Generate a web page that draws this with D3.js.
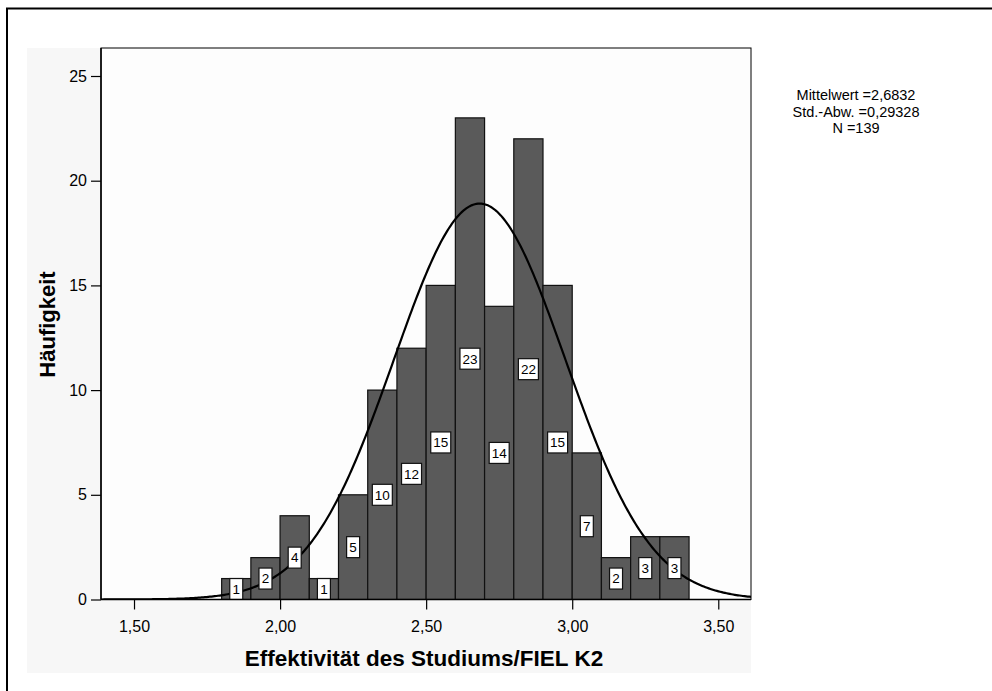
<!DOCTYPE html>
<html><head><meta charset="utf-8">
<script src="https://cdn.jsdelivr.net/npm/d3@7"></script>
<style>body{margin:0;background:#fff}svg{display:block}text{font-family:"Liberation Sans",Arial,sans-serif}</style>
</head><body><svg id="c" width="992" height="691"></svg>
<script>
const binStarts = [1.8,1.9,2.0,2.1,2.2,2.3,2.4,2.5,2.6,2.7,2.8,2.9,3.0,3.1,3.2,3.3];
const counts    = [1,2,4,1,5,10,12,15,23,14,22,15,7,2,3,3];
const binWidth = 0.1;
const xTicks = [1.5,2.0,2.5,3.0,3.5];
const yTicks = [0,5,10,15,20,25];
const stats = {mean:2.6832, sd:0.29328, n:139};
const statLines = ["Mittelwert =2,6832","Std.-Abw. =0,29328","N =139"];
const xTitle = "Effektivität des Studiums/FIEL K2";
const yTitle = "Häufigkeit";

const svg = d3.select("#c");
const L=101, R=751, T=48, B=599.5;
const x = d3.scaleLinear().domain([1.387,3.612]).range([L,R]);
const y = d3.scaleLinear().domain([0,25]).range([B,76]);

svg.append("rect").attr("x",7).attr("y",8.5).attr("width",1000).attr("height",700)
  .attr("fill","none").attr("stroke","#000").attr("stroke-width",2);
svg.append("rect").attr("x",27).attr("y",48).attr("width",R-27).attr("height",673-48).attr("fill","#f7f7f7");
svg.append("rect").attr("x",L).attr("y",T).attr("width",R-L).attr("height",B-T).attr("fill","#fdfdfd")
  .attr("stroke","#000").attr("stroke-width",1);

svg.append("clipPath").attr("id","pc").append("rect").attr("x",L).attr("y",T).attr("width",R-L).attr("height",B-T);
const g = svg.append("g").attr("clip-path","url(#pc)");

g.selectAll("rect.bar").data(binStarts).join("rect").attr("class","bar")
  .attr("x",d=>x(d)).attr("width",(d)=>x(d+binWidth)-x(d))
  .attr("y",(d,i)=>y(counts[i])).attr("height",(d,i)=>B-y(counts[i]))
  .attr("fill","#5a5a5a").attr("stroke","#111").attr("stroke-width",1.2);

// normal curve
const pdf = v => stats.n*binWidth*Math.exp(-0.5*((v-stats.mean)/stats.sd)**2)/(stats.sd*Math.sqrt(2*Math.PI));
const xs = d3.range(0,401).map(i=>1.387+(3.612-1.387)*i/400);
g.append("path").datum(xs).attr("fill","none").attr("stroke","#000").attr("stroke-width",2.2)
  .attr("d",d3.line().x(d=>x(d)).y(d=>y(pdf(d))));

// labels
const lab = g.selectAll("g.lab").data(binStarts).join("g").attr("class","lab")
  .attr("transform",(d,i)=>`translate(${x(d+binWidth/2)},${y(counts[i]/2)})`);
lab.each(function(d,i){
  const s=String(counts[i]); const w = s.length>1?20:13;
  const gg=d3.select(this);
  gg.append("rect").attr("x",-w/2).attr("y",-10.5).attr("width",w).attr("height",21)
    .attr("fill","#fff").attr("stroke","#111").attr("stroke-width",1.2);
  gg.append("text").attr("text-anchor","middle").attr("dy","0.36em").attr("font-size",13.5).text(s);
});

// axes
const fmt = d=>d3.format(".2f")(d).replace(".",",");
const xa = svg.append("g").attr("transform",`translate(0,${B})`)
  .call(d3.axisBottom(x).tickValues(xTicks).tickFormat(fmt).tickSize(10).tickSizeOuter(0));
xa.select(".domain").remove();
xa.selectAll("line").attr("stroke","#000").attr("stroke-width",1.2);
xa.selectAll("text").attr("font-size",16).attr("fill","#000").attr("dy",19).attr("font-family","Liberation Sans, Arial, sans-serif");
const ya = svg.append("g").attr("transform",`translate(${L},0)`)
  .call(d3.axisLeft(y).tickValues(yTicks).tickSize(10).tickSizeOuter(0).tickPadding(4));
ya.select(".domain").remove();
ya.selectAll("line").attr("stroke","#000").attr("stroke-width",1.2);
ya.selectAll("text").attr("font-size",16).attr("fill","#000").attr("font-family","Liberation Sans, Arial, sans-serif");
svg.append("line").attr("x1",L).attr("x2",L).attr("y1",T).attr("y2",B).attr("stroke","#000").attr("stroke-width",1.5);
svg.append("line").attr("x1",L).attr("x2",R).attr("y1",B).attr("y2",B).attr("stroke","#000").attr("stroke-width",1.5);

svg.append("text").attr("x",424).attr("y",666).attr("text-anchor","middle").attr("font-size",22.5)
  .attr("font-weight","bold").text(xTitle);
svg.append("text").attr("transform","translate(55,324.5) rotate(-90)").attr("text-anchor","middle")
  .attr("font-size",22).attr("font-weight","bold").text(yTitle);

svg.append("g").selectAll("text").data(statLines).join("text")
  .attr("x",856).attr("y",(d,i)=>100+i*16.5).attr("text-anchor","middle").attr("font-size",14.5).text(d=>d);
</script></body></html>
